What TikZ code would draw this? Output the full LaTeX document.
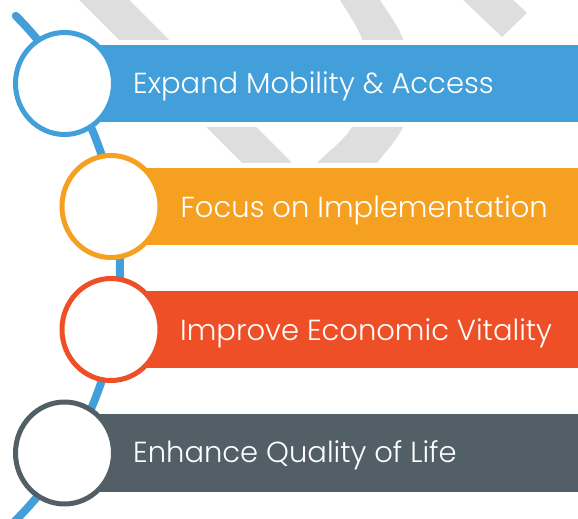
\documentclass[tikz,border=0pt]{standalone}
\usepackage{fontspec}
\setmainfont{Poppins}[UprightFont=* Light]
\usetikzlibrary{shapes.geometric}
\definecolor{cblue}{HTML}{429FD9}
\definecolor{corange}{HTML}{F6A021}
\definecolor{cred}{HTML}{EF4F26}
\definecolor{cslate}{HTML}{525F67}
\definecolor{cgray}{HTML}{DEDEDE}
\begin{document}
\begin{tikzpicture}[x=1pt,y=-1pt,
  stripe/.style={fill=cgray},
  gap/.style={fill=white},
  ring/.style={ellipse, fill=white, line width=5pt, minimum width=98pt, minimum height=102pt, inner sep=0pt},
  lbl/.style={anchor=base west, inner sep=0pt, text=white, font=\fontsize{29}{32}\selectfont},
  track/.style={draw=cblue, line width=8pt, line cap=round}]
\useasboundingbox (0,0) rectangle (578,519);
\begin{scope}
\clip (0,0) rectangle (578,519);
% background stripes
\fill[stripe] (74,-5) -- (124,-5) -- (329,200) -- (279,200) -- cycle;
\fill[stripe] plot[smooth] coordinates {(377,-5) (380,0) (403,39) (408,85) (403,127) (377,163) (362,182)}
  -- plot[smooth] coordinates {(300,182) (317,163) (352,127) (363,78) (362,39) (340,0) (337,-5)} -- cycle;
\fill[stripe] (458,-5) -- (508,-5) -- (527,13) -- (502,37) -- cycle;
% bars
\fill[gap] (64,40) rectangle (590,127);
\fill[cblue] (64,45) rectangle (590,122);
\fill[gap] (111,163) rectangle (590,250);
\fill[corange] (111,168) rectangle (590,245);
\fill[gap] (111,286) rectangle (590,373);
\fill[cred] (111,291) rectangle (590,368);
\fill[gap] (64,409) rectangle (590,497);
\fill[cslate] (64,414) rectangle (590,492);
% track
\draw[track] (-237.3,268) ++(-44.9:357.3) arc[start angle=-44.9, end angle=48, radius=357.3];
\end{scope}
% circles
\node[ring, draw=cblue] (c1) at (64.5,83.5) {};
\node[ring, draw=corange] (c2) at (111,206.5) {};
\node[ring, draw=cred] (c3) at (111,329.5) {};
\node[ring, draw=cslate] (c4) at (64.5,453) {};
% labels
\node[lbl] (t1) at (133,93) {Expand Mobility \& Access};
\node[lbl] (t2) at (180.5,217) {Focus on Implementation};
\node[lbl] (t3) at (180,340) {Improve Economic Vitality};
\node[lbl] (t4) at (133,462) {Enhance Quality of Life};
\end{tikzpicture}
\end{document}
